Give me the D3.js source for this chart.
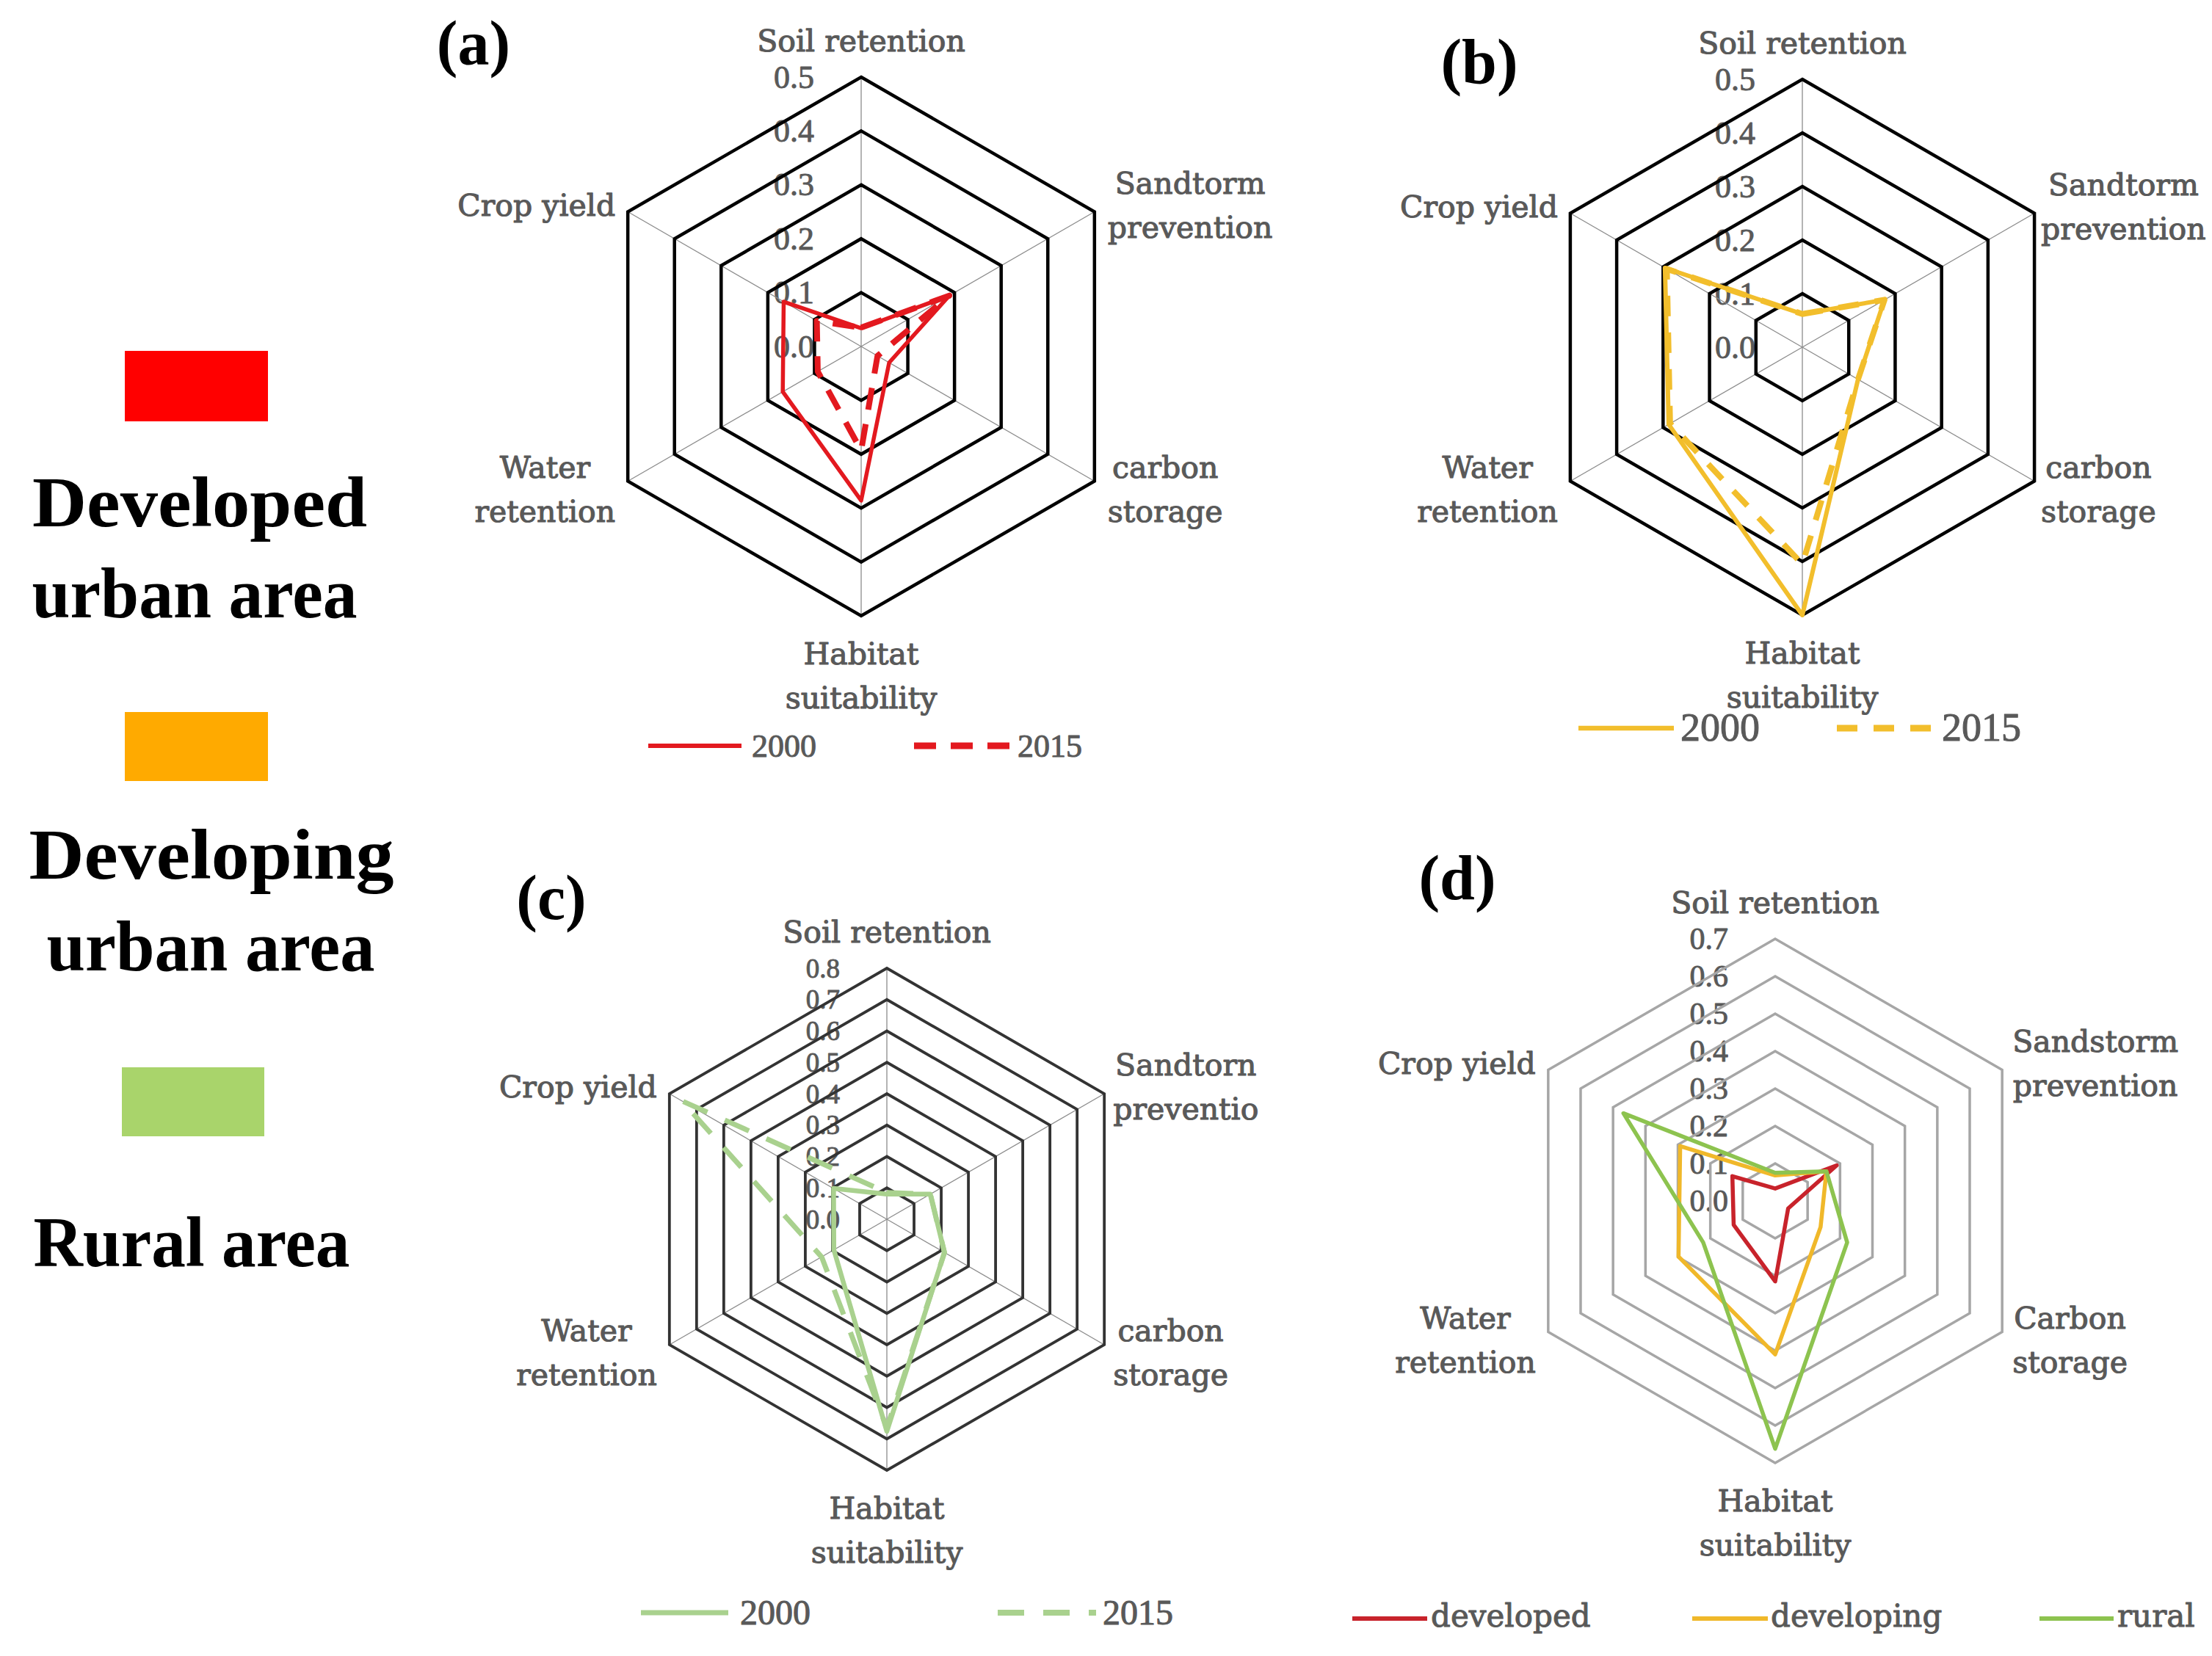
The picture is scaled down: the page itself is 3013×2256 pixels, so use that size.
<!DOCTYPE html>
<html>
<head>
<meta charset="utf-8">
<script src="https://cdn.jsdelivr.net/npm/d3@7"></script>
<style>
  html, body { margin: 0; padding: 0; background: #ffffff; }
</style>
</head>
<body>
<svg id="chart" width="3013" height="2256"></svg>
<script>
// ---------------- DATA ----------------
// axis order: Soil retention, Sandstorm prevention, Carbon storage, Habitat suitability, Water retention, Crop yield
const axisLabelsAB = [["Soil retention"], ["Sandtorm", "prevention"], ["carbon", "storage"], ["Habitat", "suitability"], ["Water", "retention"], ["Crop yield"]];
const axisLabelsC  = [["Soil retention"], ["Sandtorn", "preventio"], ["carbon", "storage"], ["Habitat", "suitability"], ["Water", "retention"], ["Crop yield"]];
const axisLabelsD  = [["Soil retention"], ["Sandstorm", "prevention"], ["Carbon", "storage"], ["Habitat", "suitability"], ["Water", "retention"], ["Crop yield"]];

const ticksAB = [0.0, 0.1, 0.2, 0.3, 0.4, 0.5];
const ticksC  = [0.0, 0.1, 0.2, 0.3, 0.4, 0.5, 0.6, 0.7, 0.8];
const ticksD  = [0.0, 0.1, 0.2, 0.3, 0.4, 0.5, 0.6, 0.7];

// (a) developed urban area
const developed2000 = [0.034, 0.189, 0.060, 0.286, 0.168, 0.166];
const developed2015 = [0.035, 0.189, 0.035, 0.193, 0.093, 0.095];
// (b) developing urban area
const developing2000 = [0.062, 0.177, 0.120, 0.500, 0.288, 0.296];
const developing2015 = [0.062, 0.177, 0.120, 0.405, 0.285, 0.292];
// (c) rural area
const rural2000 = [0.080, 0.160, 0.212, 0.676, 0.195, 0.196];
const rural2015 = [0.085, 0.160, 0.212, 0.665, 0.240, 0.755];
// (d) comparison
const compDeveloped  = [0.033, 0.190, 0.040, 0.215, 0.128, 0.132];
const compDeveloping = [0.068, 0.158, 0.140, 0.410, 0.298, 0.293];
const compRural      = [0.075, 0.158, 0.222, 0.662, 0.222, 0.468];

const yearNames = ["2000", "2015"];
const compNames = ["developed", "developing", "rural"];
const panelTags = ["(a)", "(b)", "(c)", "(d)"];
const areaNames = [["Developed", "urban area"], ["Developing", "urban area"], ["Rural area"]];

// ---------------- STYLE / LAYOUT ----------------
const textGray = "#595959";
const areaColors = ["#FF0000", "#FFAA00", "#A9D46B"];

const svg = d3.select("#chart");
svg.append("rect").attr("width", 3013).attr("height", 2256).attr("fill", "#fff");

const panels = [
  { tag: panelTags[0], tagX: 645, tagY: 88, cx: 1173, cy: 472, R: 367, ticks: ticksAB, labels: axisLabelsAB,
    ring: "#000", ringW: 4.5, spokes: true, gapR: 18, gapL: 17, tickFs: 44,
    series: [
      { values: developed2000, color: "#E3191F", width: 5.5, dash: null, name: yearNames[0] },
      { values: developed2015, color: "#E3191F", width: 8, dash: "30 20", name: yearNames[1] }
    ],
    legend: { y: 1016, font: "Liberation Serif", fs: 44, dy: 15,
      items: [{ x1: 883, x2: 1010, tx: 1024 }, { x1: 1245, x2: 1379, tx: 1386 }] } },
  { tag: panelTags[1], tagX: 2015, tagY: 113, cx: 2455, cy: 473, R: 365, ticks: ticksAB, labels: axisLabelsAB,
    ring: "#000", ringW: 4.5, spokes: true, gapR: 9, gapL: 17, tickFs: 44,
    series: [
      { values: developing2000, color: "#F2BE2C", width: 6, dash: null, name: yearNames[0] },
      { values: developing2015, color: "#F2BE2C", width: 8, dash: "28 22", name: yearNames[1] }
    ],
    legend: { y: 992, font: "Liberation Serif", fs: 54, dy: 17,
      items: [{ x1: 2150, x2: 2280, tx: 2289 }, { x1: 2502, x2: 2636, tx: 2645 }] } },
  { tag: panelTags[2], tagX: 751, tagY: 1252, cx: 1208, cy: 1661, R: 342, ticks: ticksC, labels: axisLabelsC,
    ring: "#333", ringW: 3.8, spokes: true, gapR: 12, gapL: 17, tickFs: 37,
    series: [
      { values: rural2000, color: "#A9D18E", width: 6.5, dash: null, name: yearNames[0] },
      { values: rural2015, color: "#A9D18E", width: 7, dash: "36 26", name: yearNames[1] }
    ],
    legend: { y: 2197, font: "Liberation Serif", fs: 48, dy: 16,
      items: [{ x1: 873, x2: 992, tx: 1008 }, { x1: 1359, x2: 1493, tx: 1502 }] } },
  { tag: panelTags[3], tagX: 1985, tagY: 1225, cx: 2418, cy: 1636, R: 357, ticks: ticksD, labels: axisLabelsD,
    ring: "#A6A6A6", ringW: 3.5, spokes: false, gapR: 14, gapL: 17, tickFs: 42,
    series: [
      { values: compDeveloped, color: "#C8232B", width: 5.5, dash: null, name: compNames[0] },
      { values: compDeveloping, color: "#F0B82A", width: 5.5, dash: null, name: compNames[1] },
      { values: compRural, color: "#8DC34F", width: 5.5, dash: null, name: compNames[2] }
    ],
    legend: { y: 2205, font: "DejaVu Serif", fs: 42, dy: 11,
      items: [{ x1: 1842, x2: 1944, tx: 1949 }, { x1: 2305, x2: 2408, tx: 2412 }, { x1: 2778, x2: 2879, tx: 2884 }] } }
];

const angleOf = i => i * Math.PI / 3;
const labelFont = "'DejaVu Serif', serif";
const labelFs = 41, lineGap = 60;

function boldish(sel, w) {
  return sel.attr("stroke", textGray).attr("stroke-width", w).attr("stroke-linejoin", "round");
}

function drawPanel(p) {
  const maxV = p.ticks[p.ticks.length - 1];
  const r = d3.scaleLinear().domain([0, maxV]).range([0, p.R]);
  const g = svg.append("g").attr("transform", `translate(${p.cx},${p.cy})`);

  // tick labels (drawn first, grid lines over them)
  boldish(g.append("g"), 0.9).selectAll("text").data(p.ticks).join("text")
    .attr("x", -64).attr("y", d => -r(d))
    .attr("text-anchor", "end").attr("dominant-baseline", "central")
    .attr("font-family", "'Liberation Serif', serif").attr("font-size", p.tickFs)
    .attr("fill", textGray)
    .text(d => d3.format(".1f")(d));

  // spokes
  if (p.spokes) {
    g.append("g").selectAll("line").data(d3.range(6)).join("line")
      .attr("x1", 0).attr("y1", 0)
      .attr("x2", i => r(maxV) * Math.sin(angleOf(i)))
      .attr("y2", i => -r(maxV) * Math.cos(angleOf(i)))
      .attr("stroke", "#8c8c8c").attr("stroke-width", 1.3);
  }

  // rings
  const ringLine = d3.lineRadial().angle((d, i) => angleOf(i)).radius(d => r(d)).curve(d3.curveLinearClosed);
  g.append("g").selectAll("path").data(p.ticks.filter(t => t > 0)).join("path")
    .attr("d", t => ringLine(d3.range(6).map(() => t)))
    .attr("fill", "none").attr("stroke", p.ring).attr("stroke-width", p.ringW)
    .attr("stroke-linejoin", "miter");

  // series
  const seriesLine = d3.lineRadial().angle((d, i) => angleOf(i)).radius(d => r(d)).curve(d3.curveLinearClosed);
  g.append("g").selectAll("path").data(p.series).join("path")
    .attr("d", s => seriesLine(s.values))
    .attr("fill", "none").attr("stroke", s => s.color).attr("stroke-width", s => s.width)
    .attr("stroke-dasharray", s => s.dash).attr("stroke-linejoin", "round");

  // axis labels
  const lg = boldish(g.append("g"), 1.1).attr("font-family", labelFont).attr("font-size", labelFs).attr("fill", textGray);
  p.labels.forEach((lines, i) => {
    const a = angleOf(i);
    const vx = p.R * Math.sin(a), vy = -p.R * Math.cos(a);
    const t = lg.append("text").attr("text-anchor", "middle");
    if (i === 0) {
      lines.forEach((ln, k) => t.append("tspan").attr("x", 0).attr("y", vy - 35 - (lines.length - 1 - k) * lineGap).text(ln));
    } else if (i === 3) {
      lines.forEach((ln, k) => t.append("tspan").attr("x", 0).attr("y", vy + 66 + k * lineGap).text(ln));
    } else {
      const right = vx > 0;
      const cyBlock = vy + (i === 1 || i === 5 ? -10 : 10);
      const spans = lines.map((ln, k) => t.append("tspan")
        .attr("y", cyBlock + (k - (lines.length - 1) / 2) * lineGap + 15).text(ln));
      const w = d3.max(spans, s => s.node().getComputedTextLength());
      const cx = right ? vx + p.gapR + w / 2 : vx - p.gapL - w / 2;
      spans.forEach(s => s.attr("x", cx));
    }
  });

  // panel tag
  svg.append("text").attr("x", p.tagX).attr("y", p.tagY).attr("text-anchor", "middle")
    .attr("font-family", "'Liberation Serif', serif").attr("font-weight", "bold").attr("font-size", 86)
    .attr("fill", "#000").text(p.tag);

  // legend
  const L = p.legend;
  const leg = svg.append("g");
  p.series.forEach((s, k) => {
    const it = L.items[k];
    leg.append("line").attr("x1", it.x1).attr("x2", it.x2).attr("y1", L.y).attr("y2", L.y)
      .attr("stroke", s.color).attr("stroke-width", s.dash ? s.width + 1 : s.width + 0.5)
      .attr("stroke-dasharray", s.dash);
    boldish(leg.append("text"), 1.0).attr("x", it.tx).attr("y", L.y + L.dy)
      .attr("font-family", `'${L.font}', serif`).attr("font-size", L.fs).attr("fill", textGray)
      .text(s.name);
  });
}

panels.forEach(drawPanel);

// ---------------- LEFT AREA LEGEND ----------------
const areaLayout = [
  { rect: [170, 478, 195, 96], lines: [{ x: 272, y: 717, w: 456 }, { x: 265, y: 841, w: 443 }] },
  { rect: [170, 970, 195, 94], lines: [{ x: 288, y: 1197, w: 497 }, { x: 287, y: 1322, w: 447 }] },
  { rect: [166, 1454, 194, 94], lines: [{ x: 261, y: 1725, w: 431 }] }
];
areaNames.forEach((names, k) => {
  const L = areaLayout[k];
  svg.append("rect").attr("x", L.rect[0]).attr("y", L.rect[1]).attr("width", L.rect[2]).attr("height", L.rect[3])
    .attr("fill", areaColors[k]);
  names.forEach((nm, j) => {
    const ln = L.lines[j];
    svg.append("text").attr("x", ln.x - ln.w / 2).attr("y", ln.y)
      .attr("font-family", "'Liberation Serif', serif").attr("font-weight", "bold").attr("font-size", 98)
      .attr("textLength", ln.w).attr("lengthAdjust", "spacingAndGlyphs")
      .attr("fill", "#000").text(nm);
  });
});
</script>
</body>
</html>
